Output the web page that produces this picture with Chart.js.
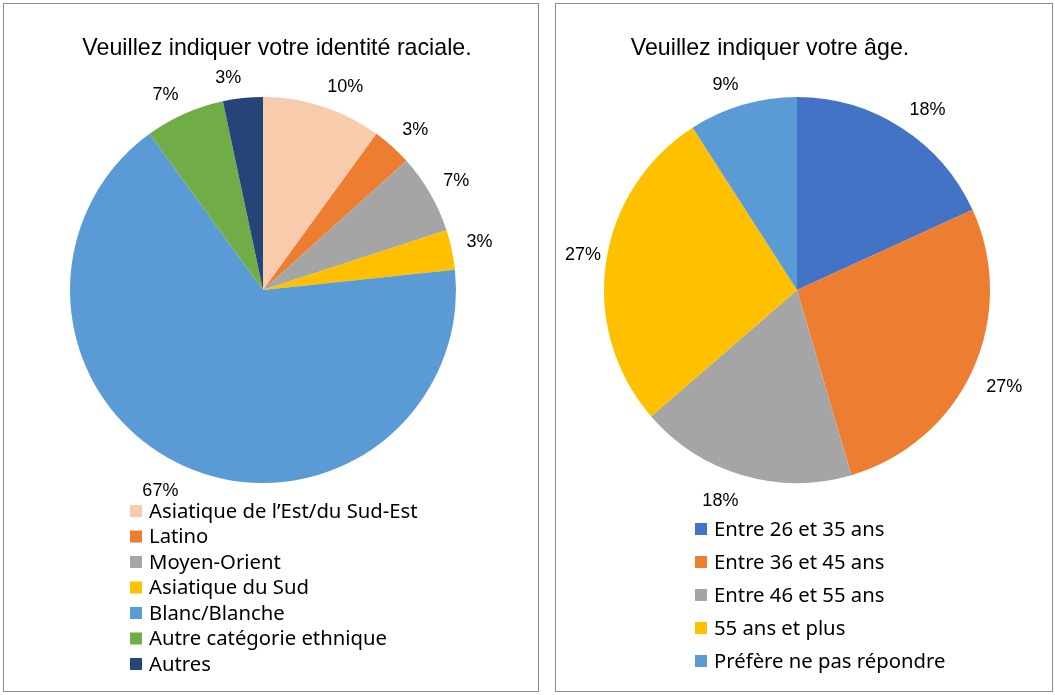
<!DOCTYPE html>
<html>
<head>
<meta charset="utf-8">
<script src="https://cdn.jsdelivr.net/npm/chart.js@4.4.1/dist/chart.umd.min.js"></script>
<style>
  body { margin: 0; background: #fff; }
  .panel { position: absolute; top: 3px; border: 1px solid #8c8c8c; background: #fff; }
  #p1 { left: 3px; width: 534px; height: 687px; }
  #p2 { left: 555px; width: 496px; height: 687px; }
</style>
</head>
<body>
<div class="panel" id="p1"><canvas id="raceChart" width="534" height="687"></canvas></div>
<div class="panel" id="p2"><canvas id="ageChart" width="496" height="687"></canvas></div>
<script>
// race chart data
const raceLabels = ["Asiatique de l\u2019Est/du Sud-Est", "Latino", "Moyen-Orient", "Asiatique du Sud", "Blanc/Blanche", "Autre cat\u00e9gorie ethnique", "Autres"];
const raceCounts = [3, 1, 2, 1, 20, 2, 1];
const raceColors = ["#F8CBAD", "#ED7D31", "#A5A5A5", "#FFC000", "#5B9BD5", "#70AD47", "#264478"];

// age chart data
const ageLabels = ["Entre 26 et 35 ans", "Entre 36 et 45 ans", "Entre 46 et 55 ans", "55 ans et plus", "Pr\u00e9f\u00e8re ne pas r\u00e9pondre"];
const ageCounts = [2, 3, 2, 3, 1];
const ageColors = ["#4472C4", "#ED7D31", "#A5A5A5", "#FFC000", "#5B9BD5"];

// draws title, outside percentage labels and a vertical legend
const excelPie = {
    id: "excelPie",
    afterDraw(chart, args, opts) {
        const ctx = chart.ctx;
        const meta = chart.getDatasetMeta(0);
        const data = chart.data.datasets[0].data;
        const total = data.reduce((a, b) => a + b, 0);

        ctx.save();
        ctx.fillStyle = "#000";
        ctx.textBaseline = "middle";

        // title
        ctx.font = "23.2px 'Liberation Sans', Arial, sans-serif";
        ctx.textAlign = "center";
        ctx.fillText(opts.title, opts.titleX, opts.titleY);

        // percentage labels: the label box corner nearest the pie sits just off the rim
        ctx.font = "18px 'Liberation Sans', Arial, sans-serif";
        meta.data.forEach((arc, i) => {
            const pct = Math.round(data[i] / total * 100) + "%";
            const w = ctx.measureText(pct).width;
            const h = 16;
            const mid = (arc.startAngle + arc.endAngle) / 2;
            const dist = arc.outerRadius + 15;
            let x = arc.x + Math.cos(mid) * dist + Math.sign(Math.cos(mid)) * w / 2;
            let y = arc.y + Math.sin(mid) * dist + Math.sign(Math.sin(mid)) * h / 2 + 3;
            // keep inside the panel
            x = Math.max(9 + w / 2, Math.min(chart.width - 9 - w / 2, x));
            ctx.fillText(pct, x, y);
        });

        // legend
        ctx.font = "20.3px 'Noto Sans', sans-serif";
        ctx.textAlign = "left";
        chart.data.labels.forEach((lab, i) => {
            const y = opts.legendY + i * opts.legendStep;
            ctx.fillStyle = chart.data.datasets[0].backgroundColor[i];
            ctx.fillRect(opts.legendX, y - 6, 12, 12);
            ctx.fillStyle = "#000";
            ctx.fillText(lab, opts.legendX + 19, y + 1);
        });
        ctx.restore();
    }
};

function makePie(id, labels, counts, colors, pad, plugOpts) {
    return new Chart(document.getElementById(id), {
        type: "pie",
        data: {
            labels: labels,
            datasets: [{
                data: counts,
                backgroundColor: colors,
                borderWidth: 0
            }]
        },
        options: {
            responsive: false,
            animation: false,
            layout: { padding: pad },
            plugins: {
                legend: { display: false },
                tooltip: { enabled: false },
                excelPie: plugOpts
            }
        },
        plugins: [excelPie]
    });
}

makePie("raceChart", raceLabels, raceCounts, raceColors,
    { left: 66, right: 82, top: 93, bottom: 208 },
    { title: "Veuillez indiquer votre identit\u00e9 raciale.", titleX: 273, titleY: 45,
      legendX: 126, legendY: 507, legendStep: 25.5 });

makePie("ageChart", ageLabels, ageCounts, ageColors,
    { left: 48, right: 62, top: 93, bottom: 208 },
    { title: "Veuillez indiquer votre \u00e2ge.", titleX: 214, titleY: 45,
      legendX: 139, legendY: 525, legendStep: 33 });
</script>
</body>
</html>
